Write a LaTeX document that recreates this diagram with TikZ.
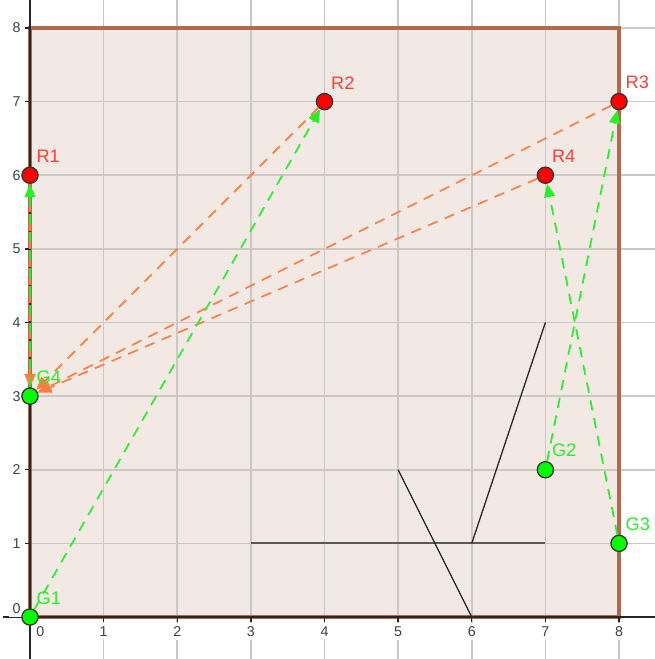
\documentclass[tikz,border=0pt]{standalone}
\usepackage{fontspec}
\setmainfont{Liberation Sans}
\usetikzlibrary{arrows.meta,positioning}

\definecolor{boxfill}{RGB}{242,233,228}
\definecolor{boxline}{RGB}{176,106,78}
\definecolor{gridgray}{RGB}{204,200,198}
\definecolor{rtext}{RGB}{255,60,60}
\definecolor{gtext}{RGB}{40,240,40}
\definecolor{pathorange}{RGB}{255,125,64}
\definecolor{pathgreen}{RGB}{40,240,40}

\tikzset{
  rpt/.style={circle, draw=black!80, fill=red, minimum size=2.2mm, inner sep=0pt, line width=0.5pt},
  gpt/.style={circle, draw=black!80, fill=green, minimum size=2.2mm, inner sep=0pt, line width=0.5pt},
  rlab/.style={text=rtext, inner sep=0pt, font=\fontsize{7}{8}\selectfont},
  glab/.style={text=gtext, inner sep=0pt, font=\fontsize{7}{8}\selectfont},
  ticklab/.style={text=black!75, fill=white, inner sep=1.2pt, font=\fontsize{5.5}{6}\selectfont},
  orangepath/.style={pathorange, line width=0.65pt, dash pattern=on 4pt off 3pt, -{Triangle[length=1.8mm,width=1.5mm]}},
  greenpath/.style={pathgreen, line width=0.65pt, dash pattern=on 4pt off 3pt, -{Triangle[length=1.8mm,width=1.5mm]}},
}

\begin{document}
\begin{tikzpicture}[>=Stealth]
    \useasboundingbox (-0.407,-0.57) rectangle (8.488,8.38);

    % Workspace and grid
    \fill[boxfill] (0,0) rectangle (8,8);
    \foreach \x in {1,...,8}
      \draw[gridgray, line width=0.6pt] (\x,-0.57) -- (\x,8.38);
    \foreach \y in {1,...,8}
      \draw[gridgray, line width=0.6pt] (0,\y) -- (8.488,\y);
    \draw[boxline, line width=1.2pt] (0,0) rectangle (8,8);

    % Axes, ticks and labels
    \draw[black!85, line width=0.5pt] (-0.36,0) -- (8.488,0);
    \draw[black!85, line width=0.5pt] (0,-0.57) -- (0,8.38);
    \foreach \x in {1,...,8} {
      \draw[black!85, line width=0.5pt] (\x,0) -- (\x,-0.07);
      \node[ticklab, below] at (\x,-0.08) {\x};
    }
    \foreach \y in {1,...,8} {
      \draw[black!85, line width=0.5pt] (0,\y) -- (-0.07,\y);
      \node[ticklab, left] at (-0.08,\y) {\y};
    }
    \node[ticklab, below] at (0.14,-0.08) {0};
    \node[ticklab, left] at (-0.08,0.11) {0};

    % Obstacles
    \draw[black!65, line width=0.8pt] (3,1) -- (7,1);
    \draw[black!85, line width=0.5pt] (5,2) -- (6,0);
    \draw[black!85, line width=0.5pt] (6,1) -- (7,4);

    % Robots and goals
    \node[rpt] (r1) at (0,6) {};
    \node[rpt] (r2) at (4,7) {};
    \node[rpt] (r3) at (8,7) {};
    \node[rpt] (r4) at (7,6) {};
    \node[gpt] (g1) at (0,0) {};
    \node[gpt] (g2) at (7,2) {};
    \node[gpt] (g3) at (8,1) {};
    \node[gpt] (g4) at (0,3) {};

    % Paths
    \draw[orangepath] (r1) -- (g4);
    \draw[orangepath] (r2) -- (g4);
    \draw[orangepath] (r3) -- (g4);
    \draw[orangepath] (r4) -- (g4);
    \draw[greenpath] (g4) -- (r1);
    \draw[greenpath] (g1) -- (r2);
    \draw[greenpath] (g2) -- (r3);
    \draw[greenpath] (g3) -- (r4);

    % Point labels
    \node[rlab, above right=0.08 and 0 of r1] (r1lab) {R1};
    \node[rlab, above right=0.08 and 0 of r2] (r2lab) {R2};
    \node[rlab, above right=0.08 and 0 of r3] (r3lab) {R3};
    \node[rlab, above right=0.08 and 0 of r4] (r4lab) {R4};
    \node[glab, above right=0.08 and 0 of g1] (g1lab) {G1};
    \node[glab, above right=0.08 and 0 of g2] (g2lab) {G2};
    \node[glab, above right=0.08 and 0 of g3] (g3lab) {G3};
    \node[glab, above right=0.08 and 0 of g4] (g4lab) {G4};
\end{tikzpicture}
\end{document}
